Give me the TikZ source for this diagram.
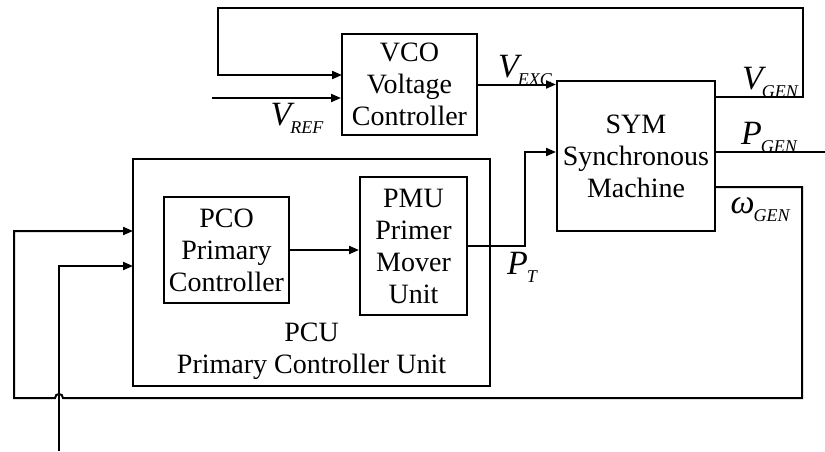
\documentclass[tikz,border=0pt]{standalone}
\usepackage{fontspec}
\setmainfont{Liberation Serif}
\usetikzlibrary{calc, positioning}
\usetikzlibrary{arrows.meta}

\newcommand{\sig}[2]{{\fontsize{17}{17}\selectfont\itshape #1}\kern-0.5pt\raisebox{-4pt}{\fontsize{9}{9}\selectfont\itshape #2}}

\begin{document}
\begin{tikzpicture}[x=0.5pt, y=-0.5pt,
  every node/.style={font=\fontsize{14}{16}\selectfont},
  blk/.style={draw, line width=1pt, align=center, inner sep=1pt},
  lbl/.style={inner sep=0pt},
  wire/.style={line width=1pt},
  arr/.style={wire, -{Triangle[length=5pt, width=4pt]}}]
\useasboundingbox (0,0) rectangle (825,451);

\node[blk, minimum width=67.5pt, minimum height=50.5pt] (vco) at (409.5,84.5) {VCO\\Voltage\\Controller};
\node[blk, minimum width=79pt, minimum height=75pt] (sym) at (636,156) {SYM\\Synchronous\\Machine};
\node[blk, minimum width=178.5pt, minimum height=113.5pt] (pcu) at (311.5,272.5) {};
\node[blk, minimum width=62.5pt, minimum height=53pt] (pco) at (226.5,250) {PCO\\Primary\\Controller};
\node[blk, minimum width=53.5pt, minimum height=69pt] (pmu) at (413.5,246) {PMU\\Primer\\Mover\\Unit};
\node[align=center, inner sep=0pt] (pcutxt) at (311.5,351) {PCU\\Primary Controller Unit};

\coordinate (vgenout) at (715,97);
\coordinate (fbr) at (803,8);
\coordinate (fbl) at (218,8);
\coordinate (fbin) at (342,75);
\coordinate (vref) at (212,98);
\coordinate (ptup) at (525,152);
\coordinate (pgenend) at (825,152);
\coordinate (wout) at (715,187);
\coordinate (wr) at (802,398);
\coordinate (jr) at (63,398);
\coordinate (jl) at (55,398);
\coordinate (wl) at (14,398);
\coordinate (win) at (133,231);
\coordinate (inbot) at (59,451);
\coordinate (in2) at (133,266);

% upper loop
\draw[arr] (vgenout) -| (fbr) -- (fbl) |- (fbin);
\draw[arr] (vref) -- (vref -| vco.west);
\draw[arr] (vco.east) -- (vco.east -| sym.west);

% primary side
\draw[arr] (pco.east) -- (pco.east -| pmu.west);
\draw[arr] (pmu.east) -| (ptup) -- (ptup -| sym.west);
\draw[wire] (pgenend -| sym.east) -- (pgenend);

% speed feedback, jumps over the second input
\draw[arr] (wout) -| (wr) -- (jr)
  .. controls ($(jr)+(0,-5.3)$) and ($(jl)+(0,-5.3)$) .. (jl)
  -- (wl) |- (win);
\draw[arr] (inbot) |- (in2);

\node[lbl] (vreflbl) at (297,118) {\sig{V}{REF}};
\node[lbl] (vexclbl) at (525,70) {\sig{V}{EXC}};
\node[lbl] (vgenlbl) at (770,82) {\sig{V}{GEN}};
\node[lbl] (pgenlbl) at (769,137) {\sig{P}{GEN}};
\node[lbl] (wgenlbl) at (760,210) {\sig{ω}{GEN}};
\node[lbl] (ptlbl) at (522,267) {\sig{P}{T}};
\end{tikzpicture}
\end{document}
